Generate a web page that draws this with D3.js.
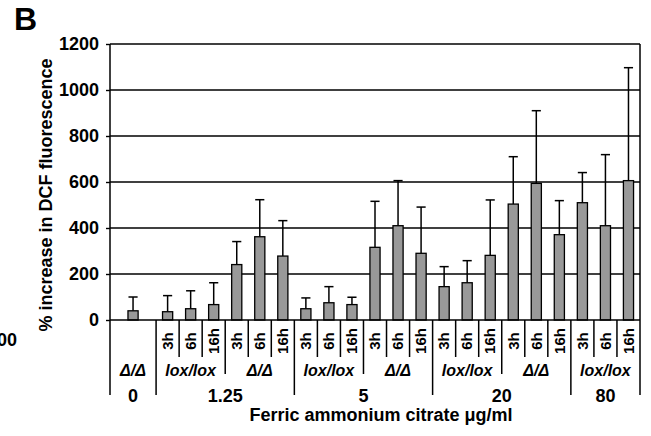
<!DOCTYPE html>
<html>
<head>
<meta charset="utf-8">
<script src="https://cdn.jsdelivr.net/npm/d3@7"></script>
<style>
  body { margin: 0; background: #fff; }
  text { font-family: "Liberation Sans", Arial, sans-serif; font-weight: bold; fill: #000; }
</style>
</head>
<body>
<div id="chart"></div>
<script>
"use strict";
var w = 651;
var h = 436;

// data
var barConc = ["0", "1.25", "1.25", "1.25", "1.25", "1.25", "1.25",
               "5", "5", "5", "5", "5", "5",
               "20", "20", "20", "20", "20", "20",
               "80", "80", "80"];
var barGeno = ["Δ/Δ", "lox/lox", "lox/lox", "lox/lox", "Δ/Δ", "Δ/Δ", "Δ/Δ",
               "lox/lox", "lox/lox", "lox/lox", "Δ/Δ", "Δ/Δ", "Δ/Δ",
               "lox/lox", "lox/lox", "lox/lox", "Δ/Δ", "Δ/Δ", "Δ/Δ",
               "lox/lox", "lox/lox", "lox/lox"];
var barHour = ["", "3h", "6h", "16h", "3h", "6h", "16h",
               "3h", "6h", "16h", "3h", "6h", "16h",
               "3h", "6h", "16h", "3h", "6h", "16h",
               "3h", "6h", "16h"];
var barSpan = [2, 1, 1, 1, 1, 1, 1, 1, 1, 1, 1, 1, 1, 1, 1, 1, 1, 1, 1, 1, 1, 1];
var means = [40, 36, 49, 67, 241, 362, 278, 49, 75, 67, 316, 410, 290,
             145, 162, 281, 504, 594, 371, 510, 410, 606];
var errs = [60, 70, 78, 95, 100, 161, 154, 47, 70, 32, 200, 196, 201,
            87, 96, 241, 206, 316, 148, 131, 309, 491];
var yTicks = [0, 200, 400, 600, 800, 1000, 1200];

var plotLeft = 110, plotRight = 640, plotTop = 44, zeroY = 320;
var hourEnd = 357, genoEnd = 374, concEnd = 395;

var svg = d3.select("#chart").append("svg")
    .attr("width", w)
    .attr("height", h);

var totalSlots = d3.sum(barSpan);
var x = d3.scaleLinear().domain([0, totalSlots]).range([plotLeft, plotRight]);
var y = d3.scaleLinear().domain([0, 1200]).range([zeroY, plotTop]);

// slot start of every bar
var starts = [];
var acc = 0;
for (var i = 0; i < barSpan.length; i++) {
    starts.push(acc);
    acc += barSpan[i];
}
var bars = means.map(function(m, i) {
    return {mean: m, err: errs[i], conc: barConc[i], geno: barGeno[i], hour: barHour[i],
            start: starts[i], span: barSpan[i], mid: starts[i] + barSpan[i] / 2};
});
var bw = x(0.44) - x(0);

// gridlines
svg.append("g")
    .selectAll("line")
    .data(yTicks.filter(function(d){ return d > 0; }))
    .enter()
    .append("line")
    .attr("x1", plotLeft).attr("x2", plotRight)
    .attr("y1", function(d){ return y(d); })
    .attr("y2", function(d){ return y(d); })
    .attr("stroke", "#000")
    .attr("stroke-width", 1.4);

// y axis ticks and labels
var yAxis = svg.append("g")
    .attr("transform", "translate(" + plotLeft + ",0)")
    .call(d3.axisLeft(y).tickValues(yTicks).tickFormat(d3.format("d")).tickSize(4).tickPadding(7));
yAxis.select(".domain").remove();
yAxis.selectAll(".tick line").attr("stroke-width", 1.4);
yAxis.selectAll("text")
    .style("font-size", "18px")
    .style("font-family", "'Liberation Sans', Arial, sans-serif")
    .style("font-weight", "bold");

// error bars (behind bars)
var eb = svg.append("g");
bars.forEach(function(d) {
    var cx = x(d.mid);
    eb.append("line")
        .attr("x1", cx).attr("x2", cx)
        .attr("y1", y(d.mean)).attr("y2", y(d.mean + d.err))
        .attr("stroke", "#000").attr("stroke-width", 1.5);
    eb.append("line")
        .attr("x1", cx - bw / 2 + 0.5).attr("x2", cx + bw / 2 - 0.5)
        .attr("y1", y(d.mean + d.err)).attr("y2", y(d.mean + d.err))
        .attr("stroke", "#000").attr("stroke-width", 1.5);
});

// bars
svg.append("g")
    .selectAll("rect")
    .data(bars)
    .enter()
    .append("rect")
    .attr("x", function(d){ return x(d.mid) - bw / 2; })
    .attr("width", bw)
    .attr("y", function(d){ return y(d.mean); })
    .attr("height", function(d){ return y(0) - y(d.mean); })
    .attr("fill", "#999999")
    .attr("stroke", "#000")
    .attr("stroke-width", 1.3);

// axis frame
svg.append("line")
    .attr("x1", plotLeft).attr("x2", plotLeft).attr("y1", plotTop).attr("y2", concEnd)
    .attr("stroke", "#000").attr("stroke-width", 1.5);
svg.append("line")
    .attr("x1", plotRight).attr("x2", plotRight).attr("y1", plotTop).attr("y2", concEnd)
    .attr("stroke", "#000").attr("stroke-width", 1.5);
svg.append("line")
    .attr("x1", plotLeft).attr("x2", plotRight).attr("y1", y(0)).attr("y2", y(0))
    .attr("stroke", "#000").attr("stroke-width", 1.5);

// separators under the axis
var sep = svg.append("g");
for (var k = 1; k < bars.length; k++) {
    var a = bars[k - 1], b = bars[k];
    var end = a.conc != b.conc ? concEnd : (a.geno != b.geno ? genoEnd : hourEnd);
    sep.append("line")
        .attr("x1", x(b.start)).attr("x2", x(b.start))
        .attr("y1", y(0)).attr("y2", end)
        .attr("stroke", "#000").attr("stroke-width", 1.5);
}

// hour labels
svg.append("g")
    .selectAll("text")
    .data(bars.filter(function(d){ return d.hour != ""; }))
    .enter()
    .append("text")
    .attr("transform", function(d){ return "translate(" + x(d.mid) + ",341) rotate(-90)"; })
    .attr("text-anchor", "middle")
    .attr("dy", "0.35em")
    .style("font-size", "15px")
    .text(function(d){ return d.hour; });

// genotype and concentration labels from contiguous runs
function runs(keyFn) {
    var out = [];
    bars.forEach(function(d) {
        var k = keyFn(d);
        var last = out[out.length - 1];
        if (last && last.key == k) {
            last.end = d.start + d.span;
        } else {
            out.push({key: k, start: d.start, end: d.start + d.span, d: d});
        }
    });
    return out;
}
var genoRuns = runs(function(d){ return d.conc + "|" + d.geno; });
svg.append("g")
    .selectAll("text")
    .data(genoRuns)
    .enter()
    .append("text")
    .attr("x", function(d){ return x((d.start + d.end) / 2); })
    .attr("y", 376)
    .attr("text-anchor", "middle")
    .style("font-size", "16px")
    .style("font-style", "italic")
    .text(function(d){ return d.d.geno; });

var concRuns = runs(function(d){ return d.conc; });
svg.append("g")
    .selectAll("text")
    .data(concRuns)
    .enter()
    .append("text")
    .attr("x", function(d){ return x((d.start + d.end) / 2); })
    .attr("y", 402)
    .attr("text-anchor", "middle")
    .style("font-size", "18px")
    .text(function(d){ return d.d.conc; });

// axis titles
svg.append("text")
    .attr("x", 381)
    .attr("y", 421)
    .attr("text-anchor", "middle")
    .style("font-size", "18px")
    .text("Ferric ammonium citrate μg/ml");

svg.append("text")
    .attr("transform", "translate(52,195) rotate(-90)")
    .attr("text-anchor", "middle")
    .style("font-size", "18px")
    .text("% increase in DCF fluorescence");

// panel letter and clipped label from the neighbouring panel
svg.append("text")
    .attr("x", 14)
    .attr("y", 30)
    .style("font-size", "32px")
    .text("B");

svg.append("text")
    .attr("x", 17)
    .attr("y", 346)
    .attr("text-anchor", "end")
    .style("font-size", "18px")
    .text("00");
</script>
</body>
</html>
